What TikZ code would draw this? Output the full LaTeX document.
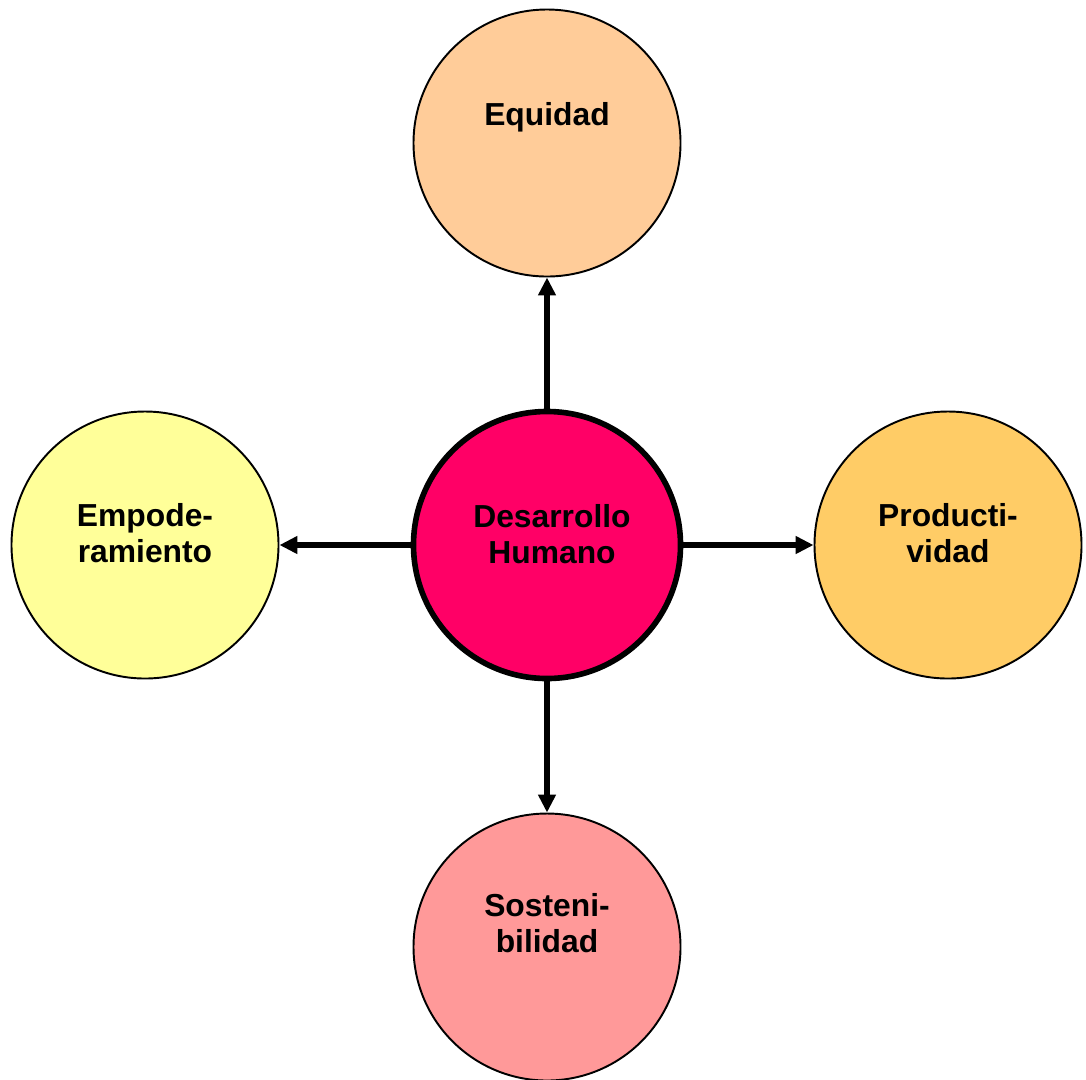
\documentclass[tikz,border=0pt]{standalone}
\usepackage{fontspec}
\setmainfont{Liberation Sans}
\usetikzlibrary{arrows.meta}

\definecolor{hotpink}{HTML}{FF0066}
\definecolor{peach}{HTML}{FFCC99}
\definecolor{paleyellow}{HTML}{FFFF99}
\definecolor{lightorange}{HTML}{FFCC66}
\definecolor{rosepink}{HTML}{FF9999}

\begin{document}
\begin{tikzpicture}[
  circ/.style={circle,draw,line width=0.55pt,minimum size=2.67cm,inner sep=0pt},
  lab/.style={anchor=north,align=center,inner sep=0pt,
    font=\fontsize{9.05}{10.3}\selectfont\bfseries},
  link/.style={-{Triangle[length=0.18cm,width=0.17cm]},line width=1.6pt}]

  % fix the frame to the size of the original
  \useasboundingbox (0,0) rectangle (10.86,-10.79);

  % the five circles
  \node [circ,line width=1.6pt,fill=hotpink] (dh) at (5.47,-5.45) {};
  \node [circ,fill=peach] (equidad) at (5.47,-1.43) {};
  \node [circ,fill=paleyellow] (empod) at (1.45,-5.45) {};
  \node [circ,fill=lightorange] (product) at (9.48,-5.45) {};
  \node [circ,fill=rosepink] (sosten) at (5.47,-9.47) {};

  % texts, set high in each circle
  \node [lab] (tdh) at (5.52,-5.04) {Desarrollo\\Humano};
  \node [lab] (tequidad) at (5.47,-1.02) {Equidad};
  \node [lab] (tempod) at (1.45,-5.03) {Empode-\\ramiento};
  \node [lab] (tproduct) at (9.48,-5.03) {Producti-\\vidad};
  \node [lab] (tsosten) at (5.47,-8.93) {Sosteni-\\bilidad};

  % arrows out of the centre
  \foreach \n in {equidad,empod,product,sosten}
    \draw [link] (dh) -- (\n);

\end{tikzpicture}
\end{document}
